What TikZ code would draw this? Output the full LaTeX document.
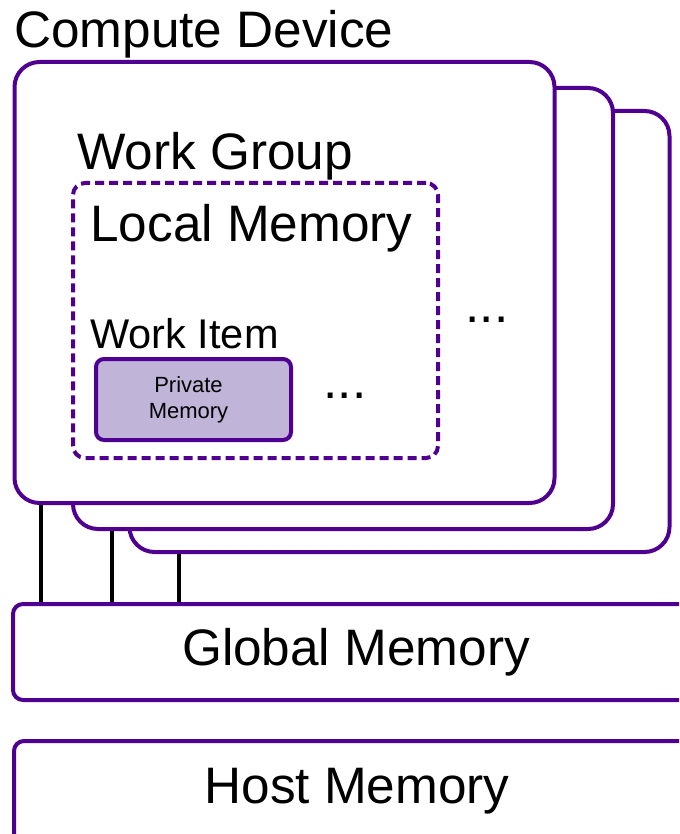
\documentclass[tikz,border=0pt]{standalone}
\usepackage{fontspec}
\setmainfont{Liberation Sans}
\definecolor{devpurple}{RGB}{80,0,145}
\definecolor{privfill}{RGB}{192,180,216}

\begin{document}
\begin{tikzpicture}[x=1pt, y=-1pt, line width=4pt,
	big/.style={font=\fontsize{51.3}{60}\selectfont},
	devbox/.style={draw=devpurple, fill=white, rounded corners=25pt, minimum width=540pt, minimum height=441pt, inner sep=0pt},
	membox/.style={draw=devpurple, fill=white, rounded corners=10pt, minimum width=686pt, inner sep=0pt, big, text height=36pt},
	link/.style={draw=black}]
	\useasboundingbox (0,0) rectangle (679,834);
	\clip (0,0) rectangle (679,834);
	% stacked compute units, back to front
	\node[devbox] (dev3) at (399.5,331.5) {};
	\node[devbox] (dev2) at (343,308.5) {};
	\node[devbox] (dev1) at (284.5,282.5) {};
	\node[big, anchor=base west] (devlbl) at (9,48) {Compute Device};
	\node[big, anchor=base] (moregroups) at (487,322) {...};
	% work group with its local memory
	\node[big, anchor=base west] (grouplbl) at (72,170) {Work Group};
	\node[draw=devpurple, dash pattern=on 9pt off 5pt, rounded corners=12pt, minimum width=365pt, minimum height=275pt] (local) at (255.5,320.5) {};
	\node[big, anchor=base west] (locallbl) at (85,241) {Local Memory};
	\node[font=\fontsize{41.5}{48}\selectfont, anchor=base west] (itemlbl) at (85,348) {Work Item};
	\node[draw=devpurple, fill=privfill, rounded corners=8pt, minimum width=195pt, minimum height=81pt, inner sep=0pt,
		label={[xshift=-5pt, align=center, font=\fontsize{22}{26}\selectfont]center:Private\\Memory}] (priv) at (193.5,399.5) {};
	\node[big, anchor=base] (moreitems) at (345,398) {...};
	% memories below
	\node[membox, minimum height=96pt, text depth=10pt] (glob) at (356,652) {Global Memory};
	\node[membox, minimum height=104pt, text depth=16pt] (host) at (357,793) {Host Memory};
	\foreach \d/\x in {dev1/41, dev2/112, dev3/179}
		\draw[link] (\x,0 |- \d.south) -- (\x,0 |- glob.north);
\end{tikzpicture}
\end{document}
